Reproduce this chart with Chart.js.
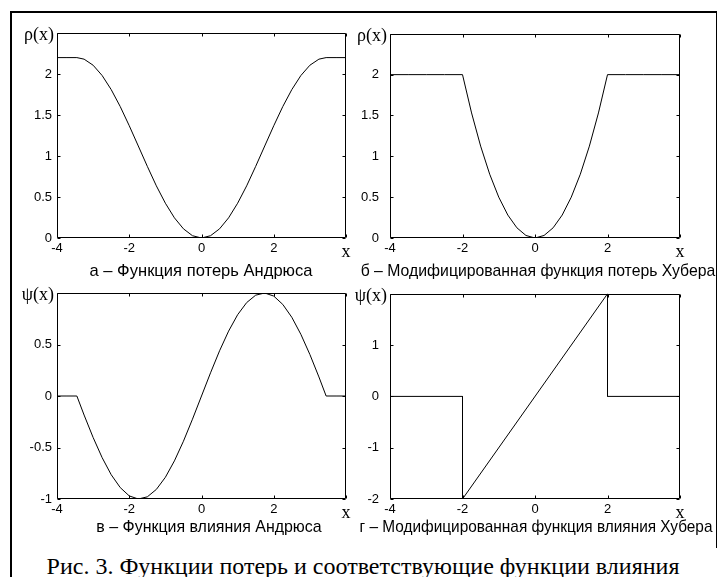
<!DOCTYPE html>
<html>
<head>
<meta charset="utf-8">
<script src="https://cdn.jsdelivr.net/npm/chart.js@4"></script>
<style>
  html, body { margin: 0; padding: 0; background: #fff; }
  body { width: 718px; height: 577px; position: relative; overflow: hidden; }
  canvas { position: absolute; }
  .line { position: absolute; background: #000; }
  .sub { position: absolute; white-space: nowrap; transform: translateX(-50%);
         font-family: "Liberation Sans", Arial, sans-serif;
         font-size: 17px; line-height: 17px; color: #000; }
  .cap { position: absolute; white-space: nowrap; transform: translateX(-50%);
         font-family: "Liberation Serif", "Times New Roman", serif;
         font-size: 24px; line-height: 24px; color: #000; }
</style>
</head>
<body>
<div class="line" style="left:10px;top:11px;width:2px;height:566px"></div>
<div class="line" style="left:10px;top:11px;width:707px;height:2px"></div>
<div class="line" style="left:716px;top:11px;width:1px;height:537px"></div>

<canvas id="pa" width="363" height="249" style="left:5px;top:15px"></canvas>
<canvas id="pb" width="364" height="249" style="left:338px;top:15px"></canvas>
<canvas id="pc" width="363" height="250" style="left:5px;top:275px"></canvas>
<canvas id="pd" width="364" height="250" style="left:338px;top:275px"></canvas>

<div class="sub" data-w="223" style="left:201px;top:262px">а – Функция потерь Андрюса</div>
<div class="sub" data-w="355" style="left:538px;top:262px">б – Модифицированная функция потерь Хубера</div>
<div class="sub" data-w="225" style="left:209px;top:518px">в – Функция влияния Андрюса</div>
<div class="sub" data-w="353" style="left:536px;top:518px">г – Модифицированная функция влияния Хубера</div>
<div class="cap" style="left:363px;top:554px">Рис. 3. Функции потерь и соответствующие функции влияния</div>

<script>
// x grid for Andrews curves
const andrewsX = [-4, -3.75, -3.45, -3.25, -3, -2.75, -2.5, -2.25, -2, -1.75, -1.5, -1.25, -1, -0.75, -0.5, -0.25,
  0, 0.25, 0.5, 0.75, 1, 1.25, 1.5, 1.75, 2, 2.25, 2.5, 2.75, 3, 3.25, 3.45, 3.75, 4];
const andrewsRho = [2.2, 2.2, 2.2, 2.181, 2.107, 1.981, 1.81, 1.603, 1.369, 1.122, 0.874, 0.636, 0.424, 0.246, 0.112, 0.028,
  0, 0.028, 0.112, 0.246, 0.424, 0.636, 0.874, 1.122, 1.369, 1.603, 1.81, 1.981, 2.107, 2.181, 2.2, 2.2, 2.2];
const andrewsPsi = [0, 0, 0, -0.185, -0.403, -0.599, -0.764, -0.889, -0.97, -1.0, -0.979, -0.907, -0.789, -0.63, -0.439, -0.225,
  0, 0.225, 0.439, 0.63, 0.789, 0.907, 0.979, 1.0, 0.97, 0.889, 0.764, 0.599, 0.403, 0.185, 0, 0, 0];

// Huber
const huberX = [-4, -3.5, -3, -2.5, -2, -1.75, -1.5, -1.25, -1, -0.75, -0.5, -0.25,
  0, 0.25, 0.5, 0.75, 1, 1.25, 1.5, 1.75, 2, 2.5, 3, 3.5, 4];
const huberRho = [2, 2, 2, 2, 2, 1.531, 1.125, 0.781, 0.5, 0.281, 0.125, 0.031,
  0, 0.031, 0.125, 0.281, 0.5, 0.781, 1.125, 1.531, 2, 2, 2, 2, 2];
const huberPsiX = [-4, -2, -2, 2, 2, 4];
const huberPsi = [0, 0, -2, 2, 0, 0];

// axes
const xRange = [-4, 4];
const xStep = 2;
const xName = 'x';
const rhoRange = [0, 2.5];
const rhoStep = 0.5;
const andrewsPsiRange = [-1, 1];
const andrewsPsiStep = 0.5;
const huberPsiRange = [-2, 2];
const huberPsiStep = 1;
const rhoName = 'ρ(x)';
const psiName = 'ψ(x)';

Chart.defaults.font.family = '"Liberation Sans", Arial, sans-serif';
Chart.defaults.font.size = 13;
Chart.defaults.color = '#000';

const serif = { family: '"Liberation Serif", "Times New Roman", serif', size: 18 };
const sans = { family: '"Liberation Sans", Arial, sans-serif', size: 13 };

// squeeze the subplot captions to the widths in the scan
document.querySelectorAll('.sub').forEach(el => {
  const k = +el.dataset.w / el.offsetWidth;
  el.style.transform = 'translateX(-50%) scaleX(' + k.toFixed(3) + ')';
});

// MATLAB-like box with inward ticks on all four sides, plus the y name in the corner
const boxTicks = {
  id: 'boxTicks',
  afterDraw(chart, args, opts) {
    const ctx = chart.ctx;
    const a = chart.chartArea;
    const l = Math.round(a.left) + 0.5, r = Math.round(a.right) - 0.5;
    const t = Math.round(a.top) + 0.5, b = Math.round(a.bottom) - 0.5;
    const len = 3;
    ctx.save();
    ctx.strokeStyle = '#000';
    ctx.lineWidth = 1;
    ctx.beginPath();
    ctx.rect(l, t, r - l, b - t);
    chart.scales.x.ticks.forEach(tk => {
      const px = Math.round(chart.scales.x.getPixelForValue(tk.value)) + 0.5;
      ctx.moveTo(px, b); ctx.lineTo(px, b - len);
      ctx.moveTo(px, t); ctx.lineTo(px, t + len);
    });
    chart.scales.y.ticks.forEach(tk => {
      const py = Math.round(chart.scales.y.getPixelForValue(tk.value)) + 0.5;
      ctx.moveTo(l, py); ctx.lineTo(l + len, py);
      ctx.moveTo(r, py); ctx.lineTo(r - len, py);
    });
    ctx.stroke();

    if (opts.name) {
      ctx.fillStyle = '#000';
      ctx.font = serif.size + 'px ' + serif.family;
      ctx.textAlign = 'right';
      ctx.textBaseline = 'middle';
      ctx.fillText(opts.name, a.left - 3, a.top + 2);
    }
    ctx.restore();
  }
};

function makePlot(id, xs, ys, yRange, yStep, yName, labelGap) {
  const pts = xs.map((x, i) => ({ x: x, y: ys[i] }));
  return new Chart(document.getElementById(id), {
    type: 'line',
    data: {
      datasets: [{
        data: pts,
        borderColor: '#000',
        borderWidth: 1,
        pointRadius: 0,
        fill: false,
        tension: 0
      }]
    },
    options: {
      responsive: false,
      animation: false,
      devicePixelRatio: 1,
      layout: { padding: { left: 0, top: 18, right: 22, bottom: 0 } },
      plugins: {
        legend: { display: false },
        tooltip: { enabled: false },
        boxTicks: { name: yName }
      },
      scales: {
        x: {
          type: 'linear',
          min: xRange[0], max: xRange[1],
          grid: { display: false, drawTicks: false },
          border: { display: false },
          ticks: {
            stepSize: xStep,
            padding: 3,
            maxRotation: 0,
            autoSkip: false,
            callback: v => (v === xRange[1] ? xName : String(v)),
            font: c => (c.tick && c.tick.value === xRange[1] ? serif : sans)
          },
          afterFit: s => { s.height = 26; }
        },
        y: {
          type: 'linear',
          min: yRange[0], max: yRange[1],
          grid: { display: false, drawTicks: false },
          border: { display: false },
          ticks: {
            stepSize: yStep,
            padding: labelGap,
            autoSkip: false,
            // the top value is covered by the axis name
            callback: v => (v === yRange[1] ? '' : String(v))
          },
          afterFit: s => { s.width = 52; }
        }
      }
    },
    plugins: [boxTicks]
  });
}

makePlot('pa', andrewsX, andrewsRho, rhoRange, rhoStep, rhoName, 5);
makePlot('pb', huberX, huberRho, rhoRange, rhoStep, rhoName, 11);
makePlot('pc', andrewsX, andrewsPsi, andrewsPsiRange, andrewsPsiStep, psiName, 5);
makePlot('pd', huberPsiX, huberPsi, huberPsiRange, huberPsiStep, psiName, 11);
</script>
</body>
</html>
